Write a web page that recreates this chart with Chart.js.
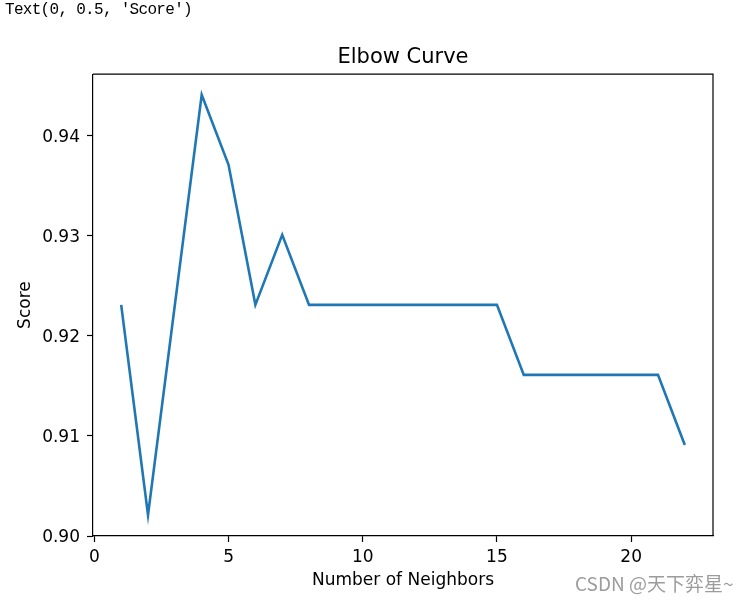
<!DOCTYPE html>
<html>
<head>
<meta charset="utf-8">
<script src="https://cdn.jsdelivr.net/npm/chart.js@4/dist/chart.umd.min.js"></script>
<style>
  body { margin: 0; background: #fff; }
  #wrap { position: relative; width: 747px; height: 604px; }
  #chart { position: absolute; left: 0; top: 0; }
  .out { position: absolute; left: 5px; top: 1px; font: 16px "Liberation Mono", monospace; color: #000; white-space: pre; letter-spacing: -0.7px; }
  .mark { position: absolute; left: 575px; top: 569px; font: 19px "Noto Sans CJK SC", sans-serif; color: #9c9c9c; white-space: pre; }
</style>
</head>
<body>
<div id="wrap">
  <canvas id="chart" width="747" height="604"></canvas>
  <div class="out">Text(0, 0.5, 'Score')</div>
  <div class="mark">CSDN @天下弈星~</div>
</div>
<script>
// data
const neighbors = [1,2,3,4,5,6,7,8,9,10,11,12,13,14,15,16,17,18,19,20,21,22]
const scores = [0.9231,0.9021,0.9231,0.9441,0.9371,0.9231,0.9301,0.9231,0.9231,0.9231,0.9231,0.9231,0.9231,0.9231,0.9231,
                0.9161,0.9161,0.9161,0.9161,0.9161,0.9161,0.9091]
const xTicks = [0,5,10,15,20]
const yTicks = [0.90,0.91,0.92,0.93,0.94]

const FONT = "'DejaVu Sans', sans-serif"

// top + right spines like matplotlib
const frame = {
  id: 'frame',
  afterDraw(chart){
    const {ctx, chartArea:a} = chart
    ctx.save()
    ctx.strokeStyle = '#000'; ctx.lineWidth = 1.2
    ctx.beginPath()
    ctx.moveTo(a.left, a.top); ctx.lineTo(a.right, a.top); ctx.lineTo(a.right, a.bottom)
    ctx.stroke()
    ctx.restore()
  }
}

new Chart(document.getElementById('chart'), {
  type: 'line',
  data: {
    datasets: [{
      data: neighbors.map((n,i)=>({x:n, y:scores[i]})),
      borderColor: '#1f77b4', borderWidth: 2.6, pointRadius: 0, tension: 0, fill: false
    }]
  },
  options: {
    responsive: false, animation: false, devicePixelRatio: 1,
    layout: { padding: { top: 0, right: 34, left: 0, bottom: 0 } },
    plugins: {
      legend: { display: false }, tooltip: { enabled: false },
      title: { display: true, text: 'Elbow Curve', fullSize: false, color: '#000',
               font: { family: FONT, size: 21, weight: 'normal' }, padding: { top: 45, bottom: 4 } }
    },
    scales: {
      x: {
        type: 'linear', position: 'bottom', min: -0.05, max: 23.05,
        afterBuildTicks: s => { s.ticks = xTicks.map(v=>({value:v})) },
        afterFit: s => { s.height = 68 },
        ticks: { color: '#000', font: { family: FONT, size: 17 }, padding: 5, maxRotation: 0 },
        grid: { drawOnChartArea: false, drawTicks: true, tickLength: 6, tickColor: '#000', tickWidth: 1.2 },
        border: { display: true, color: '#000', width: 1.2 },
        title: { display: true, text: 'Number of Neighbors', color: '#000',
                 font: { family: FONT, size: 17 }, padding: { top: 0, bottom: 13 } }
      },
      y: {
        type: 'linear', min: 0.9, max: 0.94615,
        afterBuildTicks: s => { s.ticks = yTicks.map(v=>({value:v})) },
        afterFit: s => { s.width = 93 },
        ticks: { color: '#000', font: { family: FONT, size: 17 }, padding: 7, labelOffset: 1.5,
                 callback: v => v.toFixed(2) },
        grid: { drawOnChartArea: false, drawTicks: true, tickLength: 6, tickColor: '#000', tickWidth: 1.2 },
        border: { display: true, color: '#000', width: 1.2 },
        title: { display: true, text: 'Score', color: '#000',
                 font: { family: FONT, size: 17 }, padding: { top: 15, bottom: 0 } }
      }
    }
  },
  plugins: [frame]
})
</script>
</body>
</html>
